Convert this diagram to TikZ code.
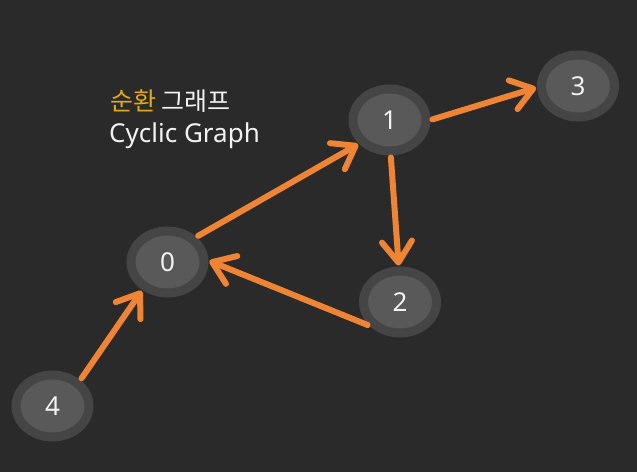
\documentclass[tikz,border=0pt]{standalone}
\usepackage{fontspec}
\setmainfont{Noto Sans}
\newfontfamily\krfont{Noto Sans CJK KR}
\usetikzlibrary{shapes.geometric,arrows.meta}
\definecolor{bg}{HTML}{2A2A2A}
\definecolor{ring}{HTML}{454545}
\definecolor{core}{HTML}{595959}
\definecolor{edgeor}{HTML}{EE8434}
\definecolor{titley}{HTML}{E5A81C}
\definecolor{txt}{HTML}{F2F2F2}
\tikzset{
  vert/.style={ellipse, draw=ring, line width=9bp, fill=core, inner sep=0pt,
    minimum width=73bp, minimum height=62bp, text=txt,
    font=\fontsize{26bp}{28bp}\selectfont},
  edge/.style={draw=edgeor, line width=6bp, line cap=round,
    -{Straight Barb[length=21bp,width=30bp,round]},
    shorten <=2bp, shorten >=1bp},
  title/.style={anchor=base west, inner sep=0pt, text=txt}
}
\begin{document}
\begin{tikzpicture}[x=1bp,y=-1bp]
\fill[bg] (0,0) rectangle (637,472);
\useasboundingbox (0,0) rectangle (637,472);
\node[vert] (n0) at (167.5,262) {0};
\node[vert] (n1) at (389.5,120) {1};
\node[vert] (n2) at (400,302) {2};
\node[vert] (n3) at (578,86) {3};
\node[vert] (n4) at (52.5,406) {4};
\node[title, font=\krfont\fontsize{25bp}{28bp}\selectfont] (t1) at (110,111) {\textcolor{titley}{순환} 그래프};
\node[title, font=\fontsize{26bp}{28bp}\selectfont] (t2) at (109,143) {Cyclic Graph};
\draw[edge] (n0.41) -- (n1.218);
\draw[edge] (n1.0) -- (n3.182);
\draw[edge] (n1.272) -- (n2.92);
\draw[edge] (n2.218) -- (n0.2);
\draw[edge] (n4.43) -- (n0.228);
\end{tikzpicture}
\end{document}
